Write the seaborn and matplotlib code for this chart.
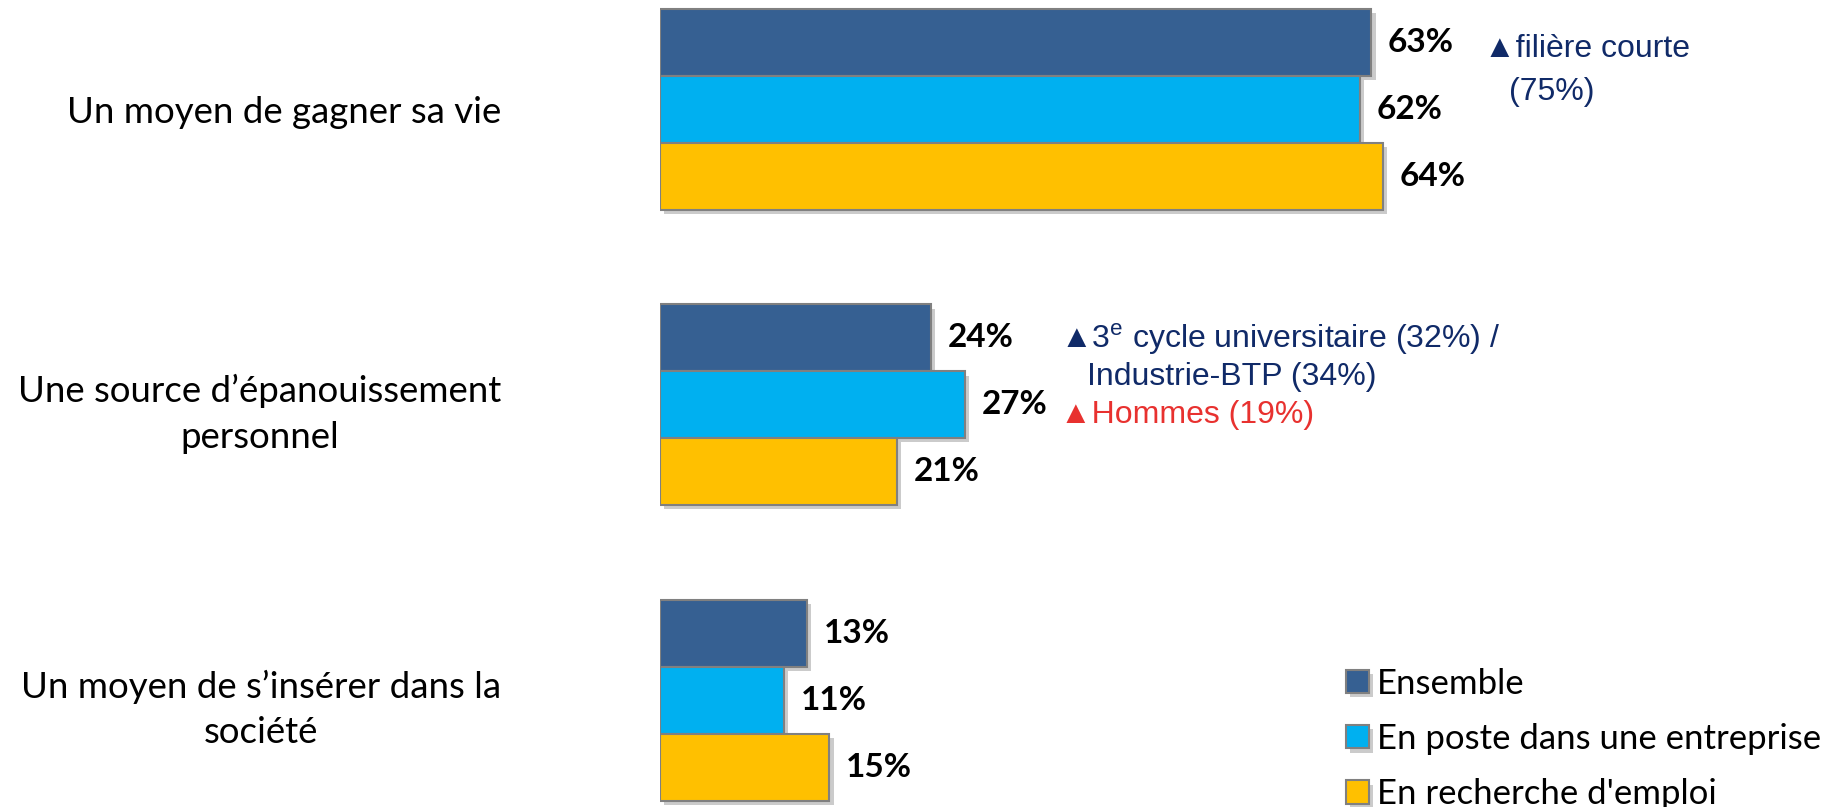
import pandas as pd
import seaborn as sns
import matplotlib.pyplot as plt
import matplotlib.patheffects as pe

categories = ["Un moyen de gagner sa vie",
              "Une source d\u2019épanouissement\npersonnel",
              "Un moyen de s\u2019insérer dans la\nsociété"]
series = ["Ensemble", "En poste dans une entreprise", "En recherche d'emploi"]
ensemble = [63, 24, 13]
en_poste = [62, 27, 11]
recherche = [64, 21, 15]

palette = ["#366092", "#00B0F0", "#FFC000"]
navy = "#102A68"
red = "#E8312F"

rows = []
for s, vals in zip(series, [ensemble, en_poste, recherche]):
    for c, v in zip(categories, vals):
        rows.append({"cat": c, "serie": s, "val": v})
df = pd.DataFrame(rows)

sns.set_style("white")
plt.rcParams["font.family"] = ["Lato", "DejaVu Sans"]
plt.rcParams["text.color"] = "black"
plt.rcParams["mathtext.fontset"] = "custom"
plt.rcParams["mathtext.rm"] = "Liberation Sans"

fig = plt.figure(figsize=(18.4, 8.07), dpi=100)
ax = fig.add_axes([660 / 1840, 0, 1 - 660 / 1840, 1])

sns.barplot(data=df, y="cat", x="val", hue="serie", orient="h",
            palette=palette, saturation=1, width=0.68, edgecolor="#808080",
            linewidth=1.5, ax=ax)

# soft drop shadow like the office chart
shadow = [pe.SimplePatchShadow(offset=(3, -3), shadow_rgbFace="#999999", alpha=0.5), pe.Normal()]
for p in ax.patches:
    p.set_path_effects(shadow)

for cont in ax.containers:
    ax.bar_label(cont, fmt="{:.0f}%", padding=12, fontsize=24, fontweight="bold", color="black")

ax.set_xlim(0, 104.5)
ax.set_ylim(2.362, -0.371)
ax.set_xticks([])
ax.set_xlabel("")
ax.set_ylabel("")
ax.set_yticks(range(len(categories)))
ax.set_yticklabels(categories, ha="right", multialignment="center", fontsize=26.4,
                   color="black", linespacing=1.45)
ax.tick_params(axis="y", length=0, pad=114.5)
for s in ax.spines.values():
    s.set_visible(False)

# annotations (y = baseline)
afont = ["Liberation Sans", "DejaVu Sans"]
ax.text(73.0, -0.178, "\u25b2filière courte", color=navy, fontsize=23, va="baseline", family=afont)
ax.text(75.2, -0.032, "(75%)", color=navy, fontsize=23, va="baseline", family=afont)
ax.text(35.4, 0.808, "\u25b23$^{\\mathrm{e}}$ cycle universitaire (32%) /", color=navy, fontsize=23,
        va="baseline", family=afont)
ax.text(37.8, 0.933, "Industrie-BTP (34%)", color=navy, fontsize=23, va="baseline", family=afont)
ax.text(35.4, 1.062, "\u25b2Hommes (19%)", color=red, fontsize=23, va="baseline", family=afont)

handles, labels = ax.get_legend_handles_labels()
leg = ax.legend(handles, labels, loc="center left", bbox_to_anchor=(1346 / 1840, 1 - 739 / 807),
                bbox_transform=fig.transFigure, frameon=False, fontsize=25, handlelength=0.65,
                handleheight=0.65, handletextpad=0.25, labelspacing=0.67, borderpad=0,
                borderaxespad=0)
for t in leg.get_texts():
    t.set_color("black")

fig.savefig("out.png", dpi=100)
